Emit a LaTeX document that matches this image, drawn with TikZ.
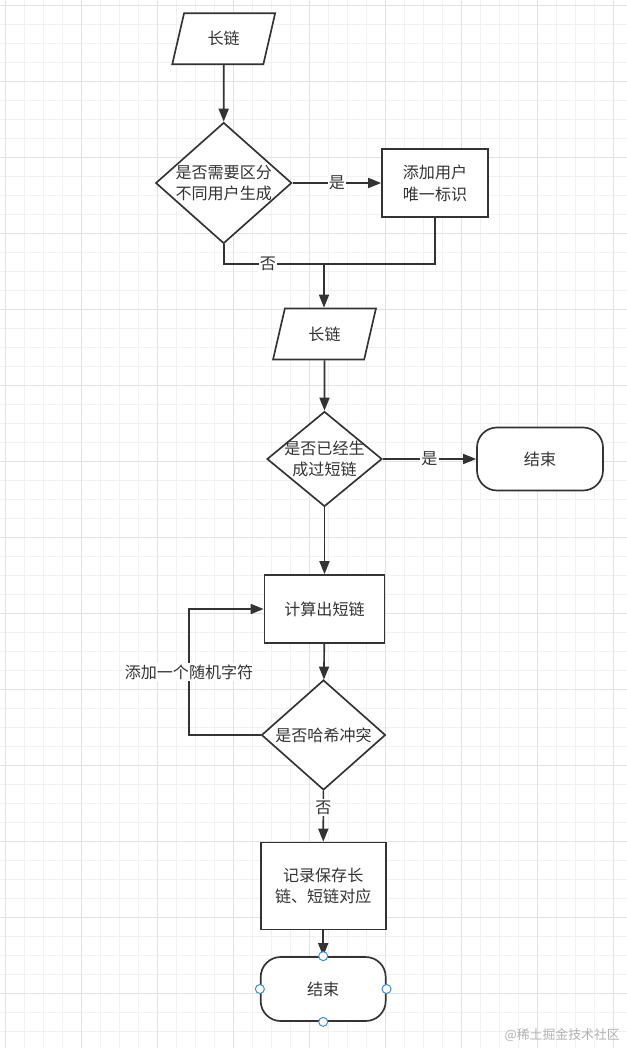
\documentclass[tikz,border=0pt]{standalone}
\usepackage{fontspec}
\setmainfont{Noto Sans CJK SC}
\usepackage{tikz}
\usetikzlibrary{shapes.geometric,arrows.meta}
\definecolor{ink}{HTML}{333333}
\definecolor{gridminor}{HTML}{F1F1F1}
\definecolor{gridmajor}{HTML}{E2E2E2}
\definecolor{handle}{HTML}{3C8DDE}
\newlength\px
\setlength\px{0.3mm}
\tikzset{
    every node/.style={font=\fontsize{13.7}{18.6}\selectfont, text=ink},
    process/.style={rectangle, draw=ink, line width=0.5mm, fill=white, inner sep=0pt, align=center},
    decision/.style={diamond, draw=ink, line width=0.5mm, fill=white, inner sep=0pt},
    io/.style={trapezium, trapezium left angle=72, trapezium right angle=108, trapezium stretches=true,
               draw=ink, line width=0.5mm, fill=white, inner sep=0pt, minimum width=103\px, minimum height=51\px},
    terminal/.style={rectangle, rounded corners=20\px, draw=ink, line width=0.5mm, fill=white, inner sep=0pt},
    flow/.style={draw=ink, line width=0.5mm, -{Triangle[length=3.9mm, width=3mm]}},
    line/.style={draw=ink, line width=0.5mm},
    tag/.style={fill=white, inner sep=1pt},
    handledot/.style={circle, draw=handle, fill=white, line width=0.3mm, minimum size=9\px, inner sep=0pt}
}

\begin{document}
\begin{tikzpicture}[x=0.3mm, y=-0.3mm]

    \useasboundingbox (0,0) rectangle (627,1048);

    % Grid
    \begin{scope}
        \clip (0,0) rectangle (627,1048);
        \fill[white] (0,0) rectangle (627,1048);
        \foreach \i in {0,...,32}
            \draw[gridminor, line width=0.3mm] ({5.7+19*\i},0) -- ({5.7+19*\i},1048);
        \foreach \i in {0,...,54}
            \draw[gridminor, line width=0.3mm] (0,{5.3+19*\i}) -- (627,{5.3+19*\i});
        \foreach \i in {0,...,8}
            \draw[gridmajor, line width=0.3mm] ({5.7+76*\i},0) -- ({5.7+76*\i},1048);
        \foreach \i in {0,...,13}
            \draw[gridmajor, line width=0.3mm] (0,{5.3+76*\i}) -- (627,{5.3+76*\i});
    \end{scope}

    % Boxes
    \node[io] (in1) at (223.7,38.8) {长链};
    \node[decision, minimum width=136\px, minimum height=121\px,
          label={[align=center]center:{是否需要区分\\不同用户生成}}] (q1) at (223.7,183) {};
    \node[process, minimum width=106\px, minimum height=68\px] (uid) at (435,183) {添加用户\\唯一标识};
    \coordinate (merge) at (324,264);
    \node[io] (in2) at (324.5,334) {长链};
    \node[decision, minimum width=115\px, minimum height=95\px,
          label={[align=center]center:{是否已经生\\成过短链}}] (q2) at (324.5,459) {};
    \node[terminal, minimum width=126\px, minimum height=63\px] (end1) at (540,459) {结束};
    \node[process, minimum width=120\px, minimum height=68\px] (calc) at (324.5,609) {计算出短链};
    \node[decision, minimum width=124\px, minimum height=110\px,
          label={[align=center]center:{是否哈希冲突}}] (q3) at (323.5,735) {};
    \coordinate (loop) at (189,735);
    \node[process, minimum width=125\px, minimum height=87\px] (save) at (323.2,886) {记录保存长\\链、短链对应};
    \node[terminal, minimum width=125\px, minimum height=64\px] (end2) at (323.2,989) {结束};

    % Connectors
    \draw[flow] (in1) -- (q1);
    \draw[flow] (q1) -- node[tag]{是} (uid);
    \draw[line] (q1.south) |- node[tag, pos=0.72]{否} (merge);
    \draw[line] (uid.south) |- (merge);
    \draw[flow] (merge) -- (merge |- in2.north);
    \draw[flow] (in2) -- (q2);
    \draw[flow] (q2) -- node[tag]{是} (end1);
    \draw[flow] (q2) -- (calc);
    \draw[flow] (calc) -- (q3);
    \draw[flow] (q3.west) -- (loop) |- node[tag, pos=0.25]{添加一个随机字符} (calc.west);
    \draw[flow] (q3) -- node[tag, pos=0.33]{否} (save);
    \draw[flow] (save) -- (end2);

    % Selection handles
    \foreach \a in {north,south,east,west}
        \node[handledot] (end2-\a) at (end2.\a) {};

    % Watermark
    \node[anchor=east, text=black!30, font=\fontsize{11}{13}\selectfont] (mark) at (624,1035) {@稀土掘金技术社区};

\end{tikzpicture}
\end{document}
